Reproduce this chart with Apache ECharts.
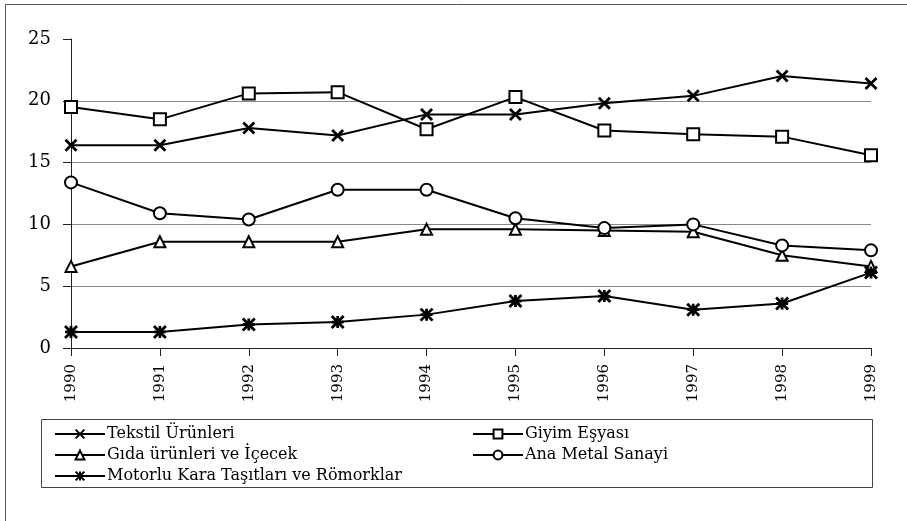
<!DOCTYPE html>
<html><head><meta charset="utf-8">
<script src="https://cdn.jsdelivr.net/npm/echarts@6/dist/echarts.min.js"></script>
<style>html,body{margin:0;padding:0;background:#fff}#c{width:907px;height:521px}</style>
</head><body><div id="c"></div>
<script>
const years = ['1990','1991','1992','1993','1994','1995','1996','1997','1998','1999'];
const tekstil = [16.4,16.4,17.8,17.2,18.9,18.9,19.8,20.4,22.0,21.4];
const giyim = [19.5,18.5,20.6,20.7,17.7,20.3,17.6,17.3,17.1,15.6];
const gida = [6.6,8.6,8.6,8.6,9.6,9.6,9.5,9.4,7.5,6.6];
const anaMetal = [13.4,10.9,10.4,12.8,12.8,10.5,9.7,10.0,8.3,7.9];
const motorlu = [1.3,1.3,1.9,2.1,2.7,3.8,4.2,3.1,3.6,6.1];
const names = ['Tekstil Ürünleri','Giyim Eşyası','Gıda ürünleri ve İçecek','Ana Metal Sanayi','Motorlu Kara Taşıtları ve Römorklar'];

const FONT = '"DejaVu Serif", "Liberation Serif", serif';
const chart = echarts.init(document.getElementById('c'));
function ser(name, data, symbol, size, filled) {
  return {
    name, type: 'line', data, symbol, symbolSize: size, showAllSymbol: true,
    lineStyle: {color: '#000', width: 2},
    itemStyle: filled ? {color: '#000', borderColor: '#000', borderWidth: 2.8}
                      : {color: '#fff', borderColor: '#000', borderWidth: 2},
    emphasis: {disabled: true}, animation: false
  };
}
const legendCommon = {
  orient: 'vertical', itemWidth: 50, itemHeight: 11, itemGap: 5,
  textStyle: {fontFamily: FONT, fontSize: 16, color: '#000', padding: [0,0,0,-3]},
  selectedMode: false
};
chart.setOption({
  animation: false,
  backgroundColor: '#fff',
  grid: {left: 71, right: 36, top: 39, bottom: 173},
  xAxis: {
    type: 'category', data: years, boundaryGap: false,
    axisLine: {lineStyle: {color: '#222', width: 1}},
    axisTick: {show: true, length: 8, alignWithLabel: true, lineStyle: {color: '#222'}},
    axisLabel: {rotate: 90, fontFamily: FONT, fontSize: 15, color: '#000', margin: 16}
  },
  yAxis: {
    type: 'value', min: 0, max: 25, interval: 5,
    axisLine: {show: true, lineStyle: {color: '#222', width: 1}},
    axisTick: {show: true, length: 8, lineStyle: {color: '#222'}},
    axisLabel: {fontFamily: FONT, fontSize: 18, color: '#000', margin: 20},
    splitLine: {show: true, lineStyle: {color: ['#888','#888','#888','#888','#888','rgba(0,0,0,0)'], width: 1}}
  },
  legend: [
    Object.assign({left: 49, top: 421, data: [names[0], names[2], names[4]]}, legendCommon),
    Object.assign({left: 467, top: 421, data: [names[1], names[3]]}, legendCommon)
  ],
  graphic: [
    {type: 'rect', shape: {x: 41.5, y: 419.5, width: 831, height: 68}, style: {fill: 'none', stroke: '#444', lineWidth: 1}, z: -1},
    {type: 'line', shape: {x1: 5.5, y1: 4.5, x2: 907, y2: 4.5}, style: {stroke: '#555', lineWidth: 1}},
    {type: 'line', shape: {x1: 5.5, y1: 4.5, x2: 5.5, y2: 521}, style: {stroke: '#555', lineWidth: 1}}
  ],
  series: [
    ser(names[0], tekstil, 'path://M0,0L10,10M10,0L0,10', 11, true),
    ser(names[1], giyim, 'rect', 12, false),
    ser(names[2], gida, 'triangle', 11, false),
    ser(names[3], anaMetal, 'circle', 12, false),
    ser(names[4], motorlu, 'path://M0,0L10,10M10,0L0,10M5,0L5,10M0,5L10,5', 12, true)
  ]
});
</script></body></html>
